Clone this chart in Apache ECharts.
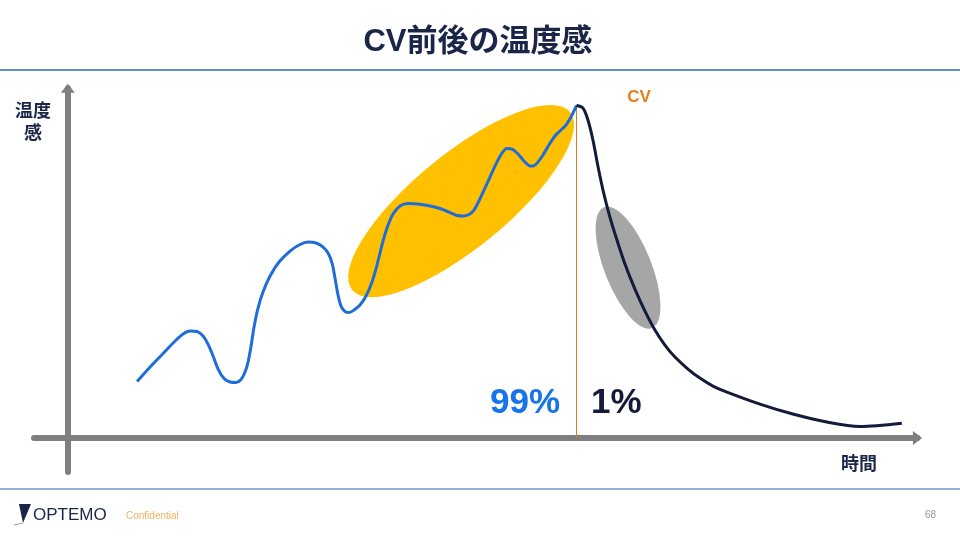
<!DOCTYPE html>
<html><head><meta charset="utf-8">
<script src="https://cdn.jsdelivr.net/npm/echarts@6/dist/echarts.min.js"></script>
<style>html,body{margin:0;padding:0;background:#fff}#c{width:960px;height:540px}</style>
</head><body><div id="c"></div>
<script>
// 温度感 (temperature) over 時間 (time), before and after CV
const beforeCV = [[7.79,16.64],[9.25,20.91],[10.71,24.89],[12.06,28.57],[12.96,30.63],[13.74,31.51],[14.53,31.36],[15.20,30.04],[15.76,27.68],[16.33,24.15],[16.89,20.32],[17.56,17.52],[18.24,16.49],[18.91,16.34],[19.47,17.23],[19.92,19.44],[20.26,22.38],[20.60,27.09],[20.93,32.69],[21.38,38.28],[21.94,43.00],[22.73,47.71],[23.74,51.83],[24.98,55.07],[26.10,56.99],[27.00,57.72],[27.90,57.43],[28.69,56.25],[29.25,54.48],[29.70,51.54],[30.03,47.12],[30.37,42.11],[30.71,38.87],[31.16,37.25],[31.61,36.96],[32.17,37.70],[32.84,39.17],[33.52,41.82],[34.19,45.94],[34.75,50.95],[35.31,56.84],[35.88,61.85],[36.55,65.97],[37.34,68.32],[38.24,69.06],[39.36,68.91],[40.71,68.32],[41.83,67.59],[42.96,66.41],[43.74,65.53],[44.42,65.38],[45.09,65.82],[45.65,67.15],[46.21,69.80],[46.78,73.04],[47.45,76.86],[48.12,80.69],[48.80,83.93],[49.36,85.26],[49.92,85.11],[50.60,83.64],[51.27,81.58],[51.83,80.25],[52.28,80.10],[52.84,81.28],[53.40,83.34],[54.08,86.29],[54.75,88.94],[55.43,90.71],[55.99,92.18],[56.55,94.53],[57.17,97.92]];
const afterCV = [[57.17,97.92],[57.90,97.18],[58.46,93.65],[59.02,87.76],[59.58,80.10],[60.15,73.04],[60.93,65.08],[61.72,58.31],[62.62,51.24],[63.74,43.88],[64.87,37.40],[65.99,31.81],[67.11,27.39],[68.24,23.85],[69.70,20.32],[71.04,17.67],[72.51,15.31],[74.08,13.55],[77.79,10.01],[81.49,7.07],[85.31,4.71],[89.02,3.39],[93.74,4.33]];
const cvPoint = [57.17, 97.92];
// highlight zones: major axis endpoints [x1,y1,x2,y2]
const zones = [[31.96,43.6,56.45,96.0],[60.27,68.0,65.66,32.4]];
const shareLabels = ['99%','1%'];
const axisNames = ['温度\n感','時間'];

const zoneColors = ['#FFC000','#A6A6A6'];
const zoneHalfWidth = [47, 23.5];
const FONT = "'Liberation Sans','Noto Sans CJK JP',sans-serif";
const JFONT = "'Noto Sans CJK JP','Liberation Sans',sans-serif";

const chart = echarts.init(document.getElementById('c'));
const axisCommon = {
  type:'value',
  axisLine:{show:true,onZero:true,symbol:['none','triangle'],symbolSize:[14,9],lineStyle:{color:'#7F7F7F',width:6}},
  axisTick:{show:false},axisLabel:{show:false},splitLine:{show:false}
};
chart.setOption({
  animation:false,
  backgroundColor:'#fff',
  grid:{left:34,right:42.5,top:88.3,bottom:68},
  xAxis:Object.assign({min:-3.8,max:95.5},axisCommon),
  yAxis:Object.assign({min:-10,max:103},axisCommon),
  series:[
    {
      type:'custom',z:1,clip:false,silent:true,
      data:zones,
      encode:{x:[0,2],y:[1,3]},
      renderItem:function(params,api){
        const p1 = api.coord([api.value(0),api.value(1)]);
        const p2 = api.coord([api.value(2),api.value(3)]);
        const cx=(p1[0]+p2[0])/2, cy=(p1[1]+p2[1])/2;
        const len=Math.hypot(p2[0]-p1[0],p2[1]-p1[1])/2;
        const ang=Math.atan2(p2[1]-p1[1],p2[0]-p1[0]);
        const i=params.dataIndex;
        return {type:'circle',x:cx,y:cy,rotation:-ang,scaleY:zoneHalfWidth[i]/len,
          shape:{cx:0,cy:0,r:len},style:{fill:zoneColors[i]}};
      }
    },
    {
      type:'line',z:3,data:beforeCV,smooth:0.3,symbol:'none',silent:true,
      lineStyle:{color:'#1F6DDB',width:3}
    },
    {
      type:'line',z:4,data:afterCV,smooth:0.3,symbol:'none',silent:true,
      lineStyle:{color:'#141B3A',width:3},
      markLine:{silent:true,symbol:'none',z:2,label:{show:false},
        lineStyle:{color:'#E07A1F',width:1,type:'solid'},
        data:[[{coord:cvPoint},{coord:[cvPoint[0],0]}]]}
    }
  ],
  graphic:[
    {type:'text',x:478,y:42,style:{text:'CV前後の温度感',font:'bold 31px '+FONT,fill:'#1B2547',align:'center',verticalAlign:'middle'}},
    {type:'line',shape:{x1:0,y1:70,x2:960,y2:70},style:{stroke:'#2E6BB5',lineWidth:1.5}},
    {type:'text',x:33,y:121,style:{text:axisNames[0],font:'bold 18px '+JFONT,fill:'#1B2547',align:'center',verticalAlign:'middle',lineHeight:22}},
    {type:'text',x:859,y:463,style:{text:axisNames[1],font:'bold 18px '+JFONT,fill:'#1B2547',align:'center',verticalAlign:'middle'}},
    {type:'text',x:639,y:97,style:{text:'CV',font:'bold 17px '+FONT,fill:'#E87D1E',align:'center',verticalAlign:'middle'}},
    {type:'text',x:560,y:403,style:{text:shareLabels[0],font:'bold 35px '+FONT,fill:'#1874EA',align:'right',verticalAlign:'middle'}},
    {type:'text',x:591,y:403,style:{text:shareLabels[1],font:'bold 35px '+FONT,fill:'#141B3A',align:'left',verticalAlign:'middle'}},
    {type:'line',shape:{x1:0,y1:489,x2:960,y2:489},style:{stroke:'#2F62A8',lineWidth:1}},
    {type:'polygon',shape:{points:[[19,504],[31,504],[23,523]]},style:{fill:'#1B2547'}},
    {type:'line',shape:{x1:14,y1:525,x2:23,y2:523},style:{stroke:'#9AA0AA',lineWidth:1}},
    {type:'text',x:33,y:515,style:{text:'OPTEMO',font:'17px '+FONT,fill:'#1B2547',align:'left',verticalAlign:'middle'}},
    {type:'text',x:126,y:516,style:{text:'Confidential',font:'10px '+FONT,fill:'#F2B160',align:'left',verticalAlign:'middle'}},
    {type:'text',x:936,y:515,style:{text:'68',font:'10px '+FONT,fill:'#999999',align:'right',verticalAlign:'middle'}}
  ]
});
</script></body></html>
